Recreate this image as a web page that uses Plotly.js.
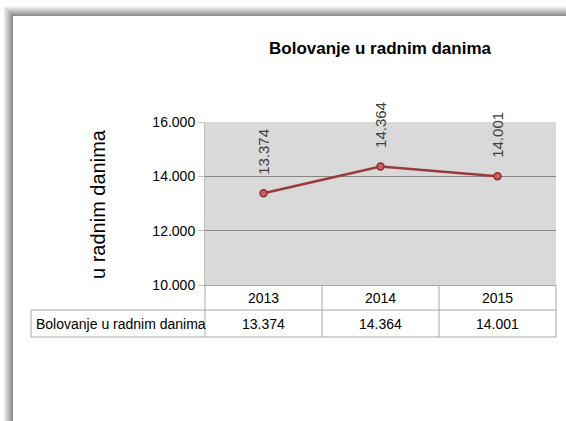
<!DOCTYPE html>
<html>
<head>
<meta charset="utf-8">
<script src="https://cdn.plot.ly/plotly-3.0.1.min.js"></script>
<style>
  html, body { margin: 0; padding: 0; background: #fff; }
  #chart { width: 566px; height: 421px; }
</style>
</head>
<body>
<div id="chart"></div>
<script>
const years = ['2013', '2014', '2015'];
const sickDays = [13374, 14364, 14001];
const seriesName = 'Bolovanje u radnim danima';
const chartTitle = 'Bolovanje u radnim danima';
const yTitle = 'u radnim danima';
const yTicks = [10000, 12000, 14000, 16000];

const W = 566, H = 421;
const M = { l: 205, r: 10, t: 122, b: 136 };
const plotW = W - M.l - M.r;
const plotH = H - M.t - M.b;
// pixel -> paper helpers
const px = (x) => (x - M.l) / plotW;
const py = (y) => (H - M.b - y) / plotH;

const fmt = (v) => String(v).replace(/\B(?=(\d{3})+(?!\d))/g, '.');
const font = 'Liberation Sans, Arial, sans-serif';
const gridGray = '#a6a6a6';

const shapes = [];
// drop shadow of the chart frame
for (let i = 0; i < 10; i++) {
  const g = Math.round(248 - i * 12);
  const c = `rgb(${g},${g},${g})`;
  shapes.push({ type: 'line', xref: 'paper', yref: 'paper', x0: px(3.5 + i), x1: px(3.5 + i), y0: py(6 + i), y1: py(H + 5), line: { color: c, width: 1 } });
  shapes.push({ type: 'line', xref: 'paper', yref: 'paper', x0: px(3.5 + i), x1: px(W + 5), y0: py(6.5 + i), y1: py(6.5 + i), line: { color: c, width: 1 } });
}
// data table grid
const rowTop = 285, rowMid = 310, rowBot = 337, tableLeft = 31;
shapes.push({ type: 'line', xref: 'paper', yref: 'paper', x0: px(tableLeft), x1: 1, y0: py(rowMid), y1: py(rowMid), line: { color: gridGray, width: 1 } });
shapes.push({ type: 'line', xref: 'paper', yref: 'paper', x0: px(tableLeft), x1: 1, y0: py(rowBot), y1: py(rowBot), line: { color: gridGray, width: 1 } });
shapes.push({ type: 'line', xref: 'paper', yref: 'paper', x0: px(tableLeft), x1: px(tableLeft), y0: py(rowMid), y1: py(rowBot), line: { color: gridGray, width: 1 } });
shapes.push({ type: 'line', xref: 'paper', yref: 'paper', x0: 0, x1: 0, y0: py(rowTop), y1: py(rowBot), line: { color: gridGray, width: 1 } });
shapes.push({ type: 'line', xref: 'paper', yref: 'paper', x0: 1, x1: 1, y0: py(rowTop), y1: py(rowBot), line: { color: gridGray, width: 1 } });
years.slice(1).forEach((_, i) => {
  shapes.push({ type: 'line', xref: 'x', yref: 'paper', x0: i + 0.5, x1: i + 0.5, y0: py(rowTop), y1: py(rowBot), line: { color: gridGray, width: 1 } });
});

const annotations = [
  { text: '<b>' + chartTitle + '</b>', xref: 'paper', yref: 'paper', x: 0.5, y: py(48), xanchor: 'center', yanchor: 'middle', showarrow: false, font: { family: font, size: 17, color: '#000' } },
  { text: yTitle, xref: 'paper', yref: 'paper', x: px(98), y: py(204), textangle: -90, xanchor: 'center', yanchor: 'middle', showarrow: false, font: { family: font, size: 20, color: '#000' } },
  { text: seriesName, xref: 'paper', yref: 'paper', x: px(34), y: py(323.5), xanchor: 'left', yanchor: 'middle', showarrow: false, font: { family: font, size: 14, color: '#000' } }
];
years.forEach((yr, i) => {
  annotations.push({ text: fmt(sickDays[i]), xref: 'x', yref: 'paper', x: i, y: py(323.5), xanchor: 'center', yanchor: 'middle', showarrow: false, font: { family: font, size: 14, color: '#000' } });
  annotations.push({ text: fmt(sickDays[i]), xref: 'x', yref: 'y', x: i, y: sickDays[i], yshift: 16, textangle: -90, xanchor: 'center', yanchor: 'bottom', showarrow: false, font: { family: font, size: 15, color: '#404040' } });
});

const trace = {
  x: years,
  y: sickDays,
  name: seriesName,
  type: 'scatter',
  mode: 'lines+markers',
  line: { color: '#9b3a3a', width: 2.5 },
  marker: { symbol: 'circle', size: 7, color: '#c9605c', line: { color: '#8e2f2f', width: 1.5 } },
  hoverinfo: 'skip'
};

const layout = {
  width: W,
  height: H,
  margin: M,
  paper_bgcolor: '#fff',
  plot_bgcolor: '#d9d9d9',
  separators: ',.',
  showlegend: false,
  font: { family: font, size: 14, color: '#000' },
  xaxis: {
    type: 'category',
    range: [-0.5, years.length - 0.5],
    showgrid: false,
    showline: true,
    linecolor: gridGray,
    ticks: '',
    tickfont: { family: font, size: 14, color: '#000' },
    automargin: false,
    fixedrange: true
  },
  yaxis: {
    range: [10000, 16000],
    tickvals: yTicks,
    tickformat: ',d',
    showgrid: true,
    gridcolor: '#868686',
    gridwidth: 1,
    zeroline: false,
    showline: true,
    linecolor: '#bfbfbf',
    ticks: 'outside',
    ticklen: 6,
    tickcolor: '#bfbfbf',
    tickfont: { family: font, size: 14, color: '#000' },
    automargin: false,
    fixedrange: true
  },
  shapes: shapes,
  annotations: annotations
};

Plotly.newPlot('chart', [trace], layout, { staticPlot: true, displayModeBar: false });
</script>
</body>
</html>
